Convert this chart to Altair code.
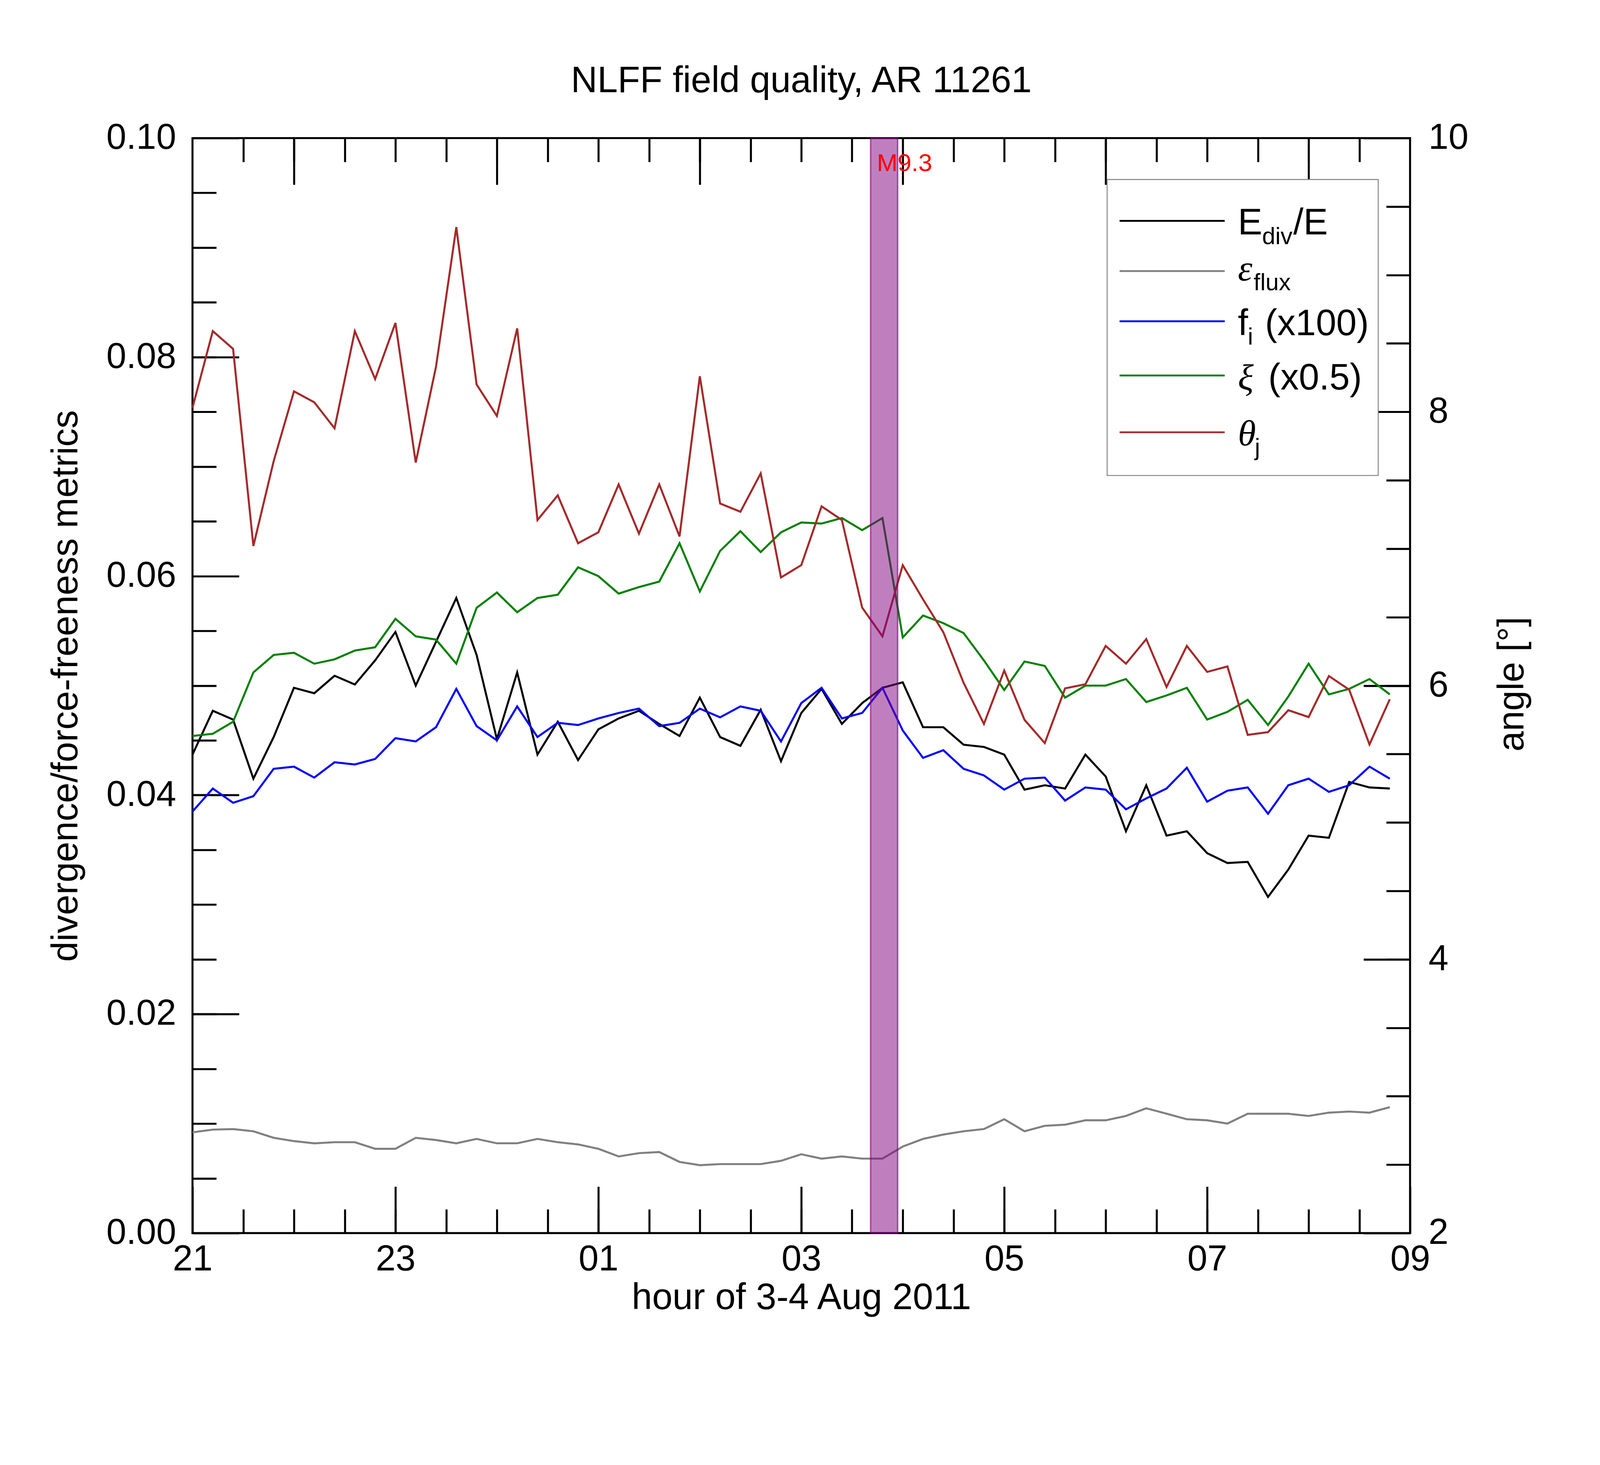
import altair as alt
import pandas as pd

FONT = "Liberation Sans"
SERIF = "Liberation Serif"

# ---------------- data ----------------
# hours after 21:00 UT on 3 Aug 2011, 12-minute cadence (60 samples)
hour_offsets = [round(0.2 * i, 1) for i in range(60)]

e_div = [0.0437, 0.0477, 0.0469, 0.0415, 0.0453, 0.0498, 0.0493, 0.0509, 0.0501, 0.0523,
         0.0549, 0.0500, 0.0540, 0.0580, 0.0528, 0.0451, 0.0512, 0.0437, 0.0467, 0.0432,
         0.0460, 0.0470, 0.0477, 0.0465, 0.0454, 0.0489, 0.0453, 0.0445, 0.0478, 0.0431,
         0.0475, 0.0497, 0.0465, 0.0484, 0.0498, 0.0503, 0.0462, 0.0462, 0.0446, 0.0444,
         0.0437, 0.0405, 0.0409, 0.0406, 0.0437, 0.0417, 0.0367, 0.0409, 0.0363, 0.0367,
         0.0347, 0.0338, 0.0339, 0.0307, 0.0332, 0.0363, 0.0361, 0.0412, 0.0407, 0.0406]

eps_flux = [0.0092, 0.00945, 0.0095, 0.0093, 0.0087, 0.0084, 0.0082, 0.0083, 0.0083, 0.0077,
            0.0077, 0.0087, 0.0085, 0.0082, 0.0086, 0.0082, 0.0082, 0.0086, 0.0083, 0.0081,
            0.0077, 0.0070, 0.0073, 0.0074, 0.0065, 0.0062, 0.0063, 0.0063, 0.0063, 0.0066,
            0.0072, 0.0068, 0.0070, 0.0068, 0.0068, 0.0079, 0.0086, 0.0090, 0.0093, 0.0095,
            0.0104, 0.0093, 0.0098, 0.0099, 0.0103, 0.0103, 0.0107, 0.0114, 0.0109, 0.0104,
            0.0103, 0.0100, 0.0109, 0.0109, 0.0109, 0.0107, 0.0110, 0.0111, 0.0110, 0.0115]

f_i = [0.0385, 0.0406, 0.0393, 0.0399, 0.0424, 0.0426, 0.0416, 0.0430, 0.0428, 0.0433,
       0.0452, 0.0449, 0.0462, 0.0497, 0.0463, 0.0450, 0.0481, 0.0453, 0.0466, 0.0464,
       0.0470, 0.0475, 0.0479, 0.0463, 0.0466, 0.0479, 0.0471, 0.0481, 0.0477, 0.0449,
       0.0484, 0.0498, 0.0470, 0.0475, 0.0498, 0.0459, 0.0434, 0.0441, 0.0424, 0.0418,
       0.0405, 0.0415, 0.0416, 0.0395, 0.0407, 0.0405, 0.0387, 0.0397, 0.0406, 0.0425,
       0.0394, 0.0404, 0.0407, 0.0383, 0.0409, 0.0415, 0.0403, 0.0409, 0.0426, 0.0415]

xi = [0.0454, 0.0456, 0.0467, 0.0512, 0.0528, 0.0530, 0.0520, 0.0524, 0.0532, 0.0535,
      0.0561, 0.0545, 0.0542, 0.0520, 0.0571, 0.0585, 0.0567, 0.0580, 0.0583, 0.0608,
      0.0600, 0.0584, 0.0590, 0.0595, 0.0630, 0.0586, 0.0623, 0.0641, 0.0622, 0.0640,
      0.0649, 0.0648, 0.0653, 0.0642, 0.0653, 0.0544, 0.0564, 0.0557, 0.0548, 0.0523,
      0.0496, 0.0522, 0.0518, 0.0489, 0.0500, 0.0500, 0.0506, 0.0485, 0.0491, 0.0498,
      0.0469, 0.0476, 0.0487, 0.0464, 0.0490, 0.0520, 0.0492, 0.0497, 0.0506, 0.0492]

theta_j = [8.03, 8.59, 8.46, 7.02, 7.64, 8.15, 8.07, 7.88, 8.59, 8.24,
           8.65, 7.63, 8.33, 9.35, 8.20, 7.97, 8.61, 7.21, 7.39, 7.04,
           7.12, 7.47, 7.11, 7.47, 7.09, 8.26, 7.33, 7.27, 7.55, 6.79,
           6.88, 7.31, 7.21, 6.57, 6.36, 6.88, 6.63, 6.39, 6.02, 5.72,
           6.11, 5.75, 5.58, 5.98, 6.01, 6.29, 6.16, 6.34, 5.99, 6.29,
           6.10, 6.14, 5.64, 5.66, 5.82, 5.77, 6.07, 5.97, 5.57, 5.90]

series_names = ["E_div/E", "eps_flux", "f_i (x100)", "xi (x0.5)", "theta_j"]
series_colors = ["#000000", "#808080", "#0000ff", "#008000", "#a52a2a"]

flare_start = 6.683   # 03:41 UT
flare_end = 6.95      # 03:57 UT
flare_label = "M9.3"

legend_main = ["E", "\u03b5", "f", "\u03be", "\u03b8"]
legend_main_serif = [False, True, False, True, True]
legend_sub = ["div", "flux", "i", "", "j"]
legend_suffix = ["/E", "", "(x100)", "(x0.5)", ""]

title_text = "NLFF field quality, AR 11261"
x_title = "hour of 3-4 Aug 2011"
yl_title = "divergence/force-freeness metrics"
yr_title = "angle [\u00b0]"

# ---------------- layout constants ----------------
W, H = 3324, 2989
LONG, SHORT = 127, 65
LBL = 98
TTL = 100
TW = 5.5

x_scale = alt.Scale(domain=[0, 12], nice=False, zero=False)
yl_scale = alt.Scale(domain=[0, 0.1], nice=False, zero=False)
yr_scale = alt.Scale(domain=[2, 10], nice=False, zero=False)


def make_axis(orient, values, length, **kw):
    base = dict(orient=orient, values=values, offset=-length, tickSize=length,
                domain=False, grid=False, tickColor="black", tickWidth=TW,
                labelFont=FONT, labelFontSize=LBL, labelColor="black",
                labelFlush=False, labelOverlap=False, labelLimit=600,
                titleFont=FONT, titleFontSize=TTL, titleFontWeight="normal",
                titleColor="black")
    base.update(kw)
    return alt.Axis(**base)


half_hours = [round(0.5 * k, 1) for k in range(1, 24)]
bottom_major = make_axis(
    "bottom", [0, 2, 4, 6, 8, 10, 12], LONG, labelPadding=25,
    labelExpr="(((21 + datum.value) % 24) < 10 ? '0' : '') + ((21 + datum.value) % 24)",
    title=x_title, titleX=W / 2, titleY=334, titleAlign="center",
    titleBaseline="alphabetic", titleAngle=0)
bottom_minor = make_axis("bottom", half_hours, SHORT, labels=False, title=None)
top_major = make_axis("top", [1, 3, 5, 7, 9, 11], LONG, labels=False, title=None)
top_minor = make_axis("top", half_hours, SHORT, labels=False, title=None)

left_major = make_axis(
    "left", [0, 0.02, 0.04, 0.06, 0.08, 0.1], LONG, format=".2f", labelPadding=45,
    title=yl_title, titleX=-442, titleY=1495, titleAngle=270, titleAlign="center",
    titleBaseline="alphabetic")
left_minor = make_axis("left", [round(0.005 * k, 3) for k in range(1, 20)], SHORT,
                       labels=False, title=None)
right_major = make_axis(
    "right", [2, 4, 6, 8, 10], LONG, format="d", labelPadding=50,
    title=yr_title, titleX=436, titleY=1490, titleAngle=270, titleAlign="center",
    titleBaseline="alphabetic")
right_minor = make_axis("right", [round(2 + 0.5 * k, 1) for k in range(1, 16)], SHORT,
                        labels=False, title=None)

# ---------------- data layers ----------------
left_df = pd.DataFrame({
    "t": hour_offsets * 4,
    "value": e_div + eps_flux + f_i + xi,
    "series": sum([[n] * len(hour_offsets) for n in series_names[:4]], []),
})

lines = alt.Chart(left_df).mark_line(strokeWidth=5.5).encode(
    x=alt.X("t:Q", scale=x_scale, axis=bottom_major),
    y=alt.Y("value:Q", scale=yl_scale, axis=left_major),
    color=alt.Color("series:N", scale=alt.Scale(domain=series_names[:4],
                                                range=series_colors[:4]), legend=None),
)

red = alt.Chart(pd.DataFrame({"t": hour_offsets, "angle": theta_j})).mark_line(
    strokeWidth=5.5, color=series_colors[4]).encode(
    x=alt.X("t:Q", scale=x_scale, axis=bottom_minor),
    y=alt.Y("angle:Q", scale=yr_scale, axis=right_major),
)

band = alt.Chart(pd.DataFrame({"start": [flare_start], "end": [flare_end]})).mark_rect(
    fill="purple", fillOpacity=0.5, stroke="purple", strokeOpacity=0.6, strokeWidth=4).encode(
    x=alt.X("start:Q", scale=x_scale, axis=top_major),
    x2="end:Q",
    y=alt.YDatum(0, type="quantitative", scale=yl_scale, axis=left_minor),
    y2=alt.Y2Datum(0.1),
)

flare_txt = alt.Chart(pd.DataFrame({"start": [flare_start], "label": [flare_label]})).mark_text(
    color="red", font=FONT, fontSize=68, align="left", baseline="alphabetic", dx=17).encode(
    x=alt.X("start:Q", scale=x_scale, axis=top_minor),
    y=alt.YDatum(9.76, type="quantitative", scale=yr_scale, axis=right_minor),
    text="label:N",
)

# ---------------- legend (annotation) ----------------
one = pd.DataFrame({"k": [0]})
legend_layers = [
    alt.Chart(one).mark_rect(fill="white", stroke="#808080", strokeWidth=2.5).encode(
        x=alt.value(2497), x2=alt.value(3237), y=alt.value(113), y2=alt.value(921))
]
sw_y = [226, 363, 500, 648, 803]
base_y = [263, 389, 538, 686, 839]
sub_x = [2920, 2897, 2881, None, 2900]
suf_x = [3005, None, 2928, 2937, None]
for i in range(5):
    legend_layers.append(
        alt.Chart(one).mark_rule(color=series_colors[i], strokeWidth=5).encode(
            x=alt.value(2531), x2=alt.value(2818), y=alt.value(sw_y[i])))
    if legend_main_serif[i]:
        mk = dict(font=SERIF, fontStyle="italic")
    else:
        mk = dict(font=FONT)
    legend_layers.append(
        alt.Chart(pd.DataFrame({"label": [legend_main[i]]})).mark_text(
            fontSize=TTL, align="left", baseline="alphabetic", color="black", **mk).encode(
            x=alt.value(2854), y=alt.value(base_y[i]), text="label:N"))
    if legend_sub[i]:
        legend_layers.append(
            alt.Chart(pd.DataFrame({"label": [legend_sub[i]]})).mark_text(
                font=FONT, fontSize=65, align="left", baseline="alphabetic", color="black").encode(
                x=alt.value(sub_x[i]), y=alt.value(base_y[i] + 26), text="label:N"))
    if legend_suffix[i]:
        legend_layers.append(
            alt.Chart(pd.DataFrame({"label": [legend_suffix[i]]})).mark_text(
                font=FONT, fontSize=TTL, align="left", baseline="alphabetic", color="black").encode(
                x=alt.value(suf_x[i]), y=alt.value(base_y[i]), text="label:N"))

chart = alt.layer(lines, red, band, flare_txt, *legend_layers).resolve_scale(
    x="independent", y="independent"
).properties(
    width=W, height=H,
    autosize=alt.AutoSizeParams(type="none"),
    padding={"left": 517, "top": 249, "right": 510, "bottom": 360},
    title=alt.TitleParams(title_text, font=FONT, fontSize=TTL, fontWeight="normal",
                          color="black", anchor="middle", frame="group", offset=68,
                          baseline="alphabetic", dy=92),
    background="white",
).configure_view(stroke="black", strokeWidth=5.5)

chart.save("out.html", embed_options={"renderer": "svg", "actions": False})
